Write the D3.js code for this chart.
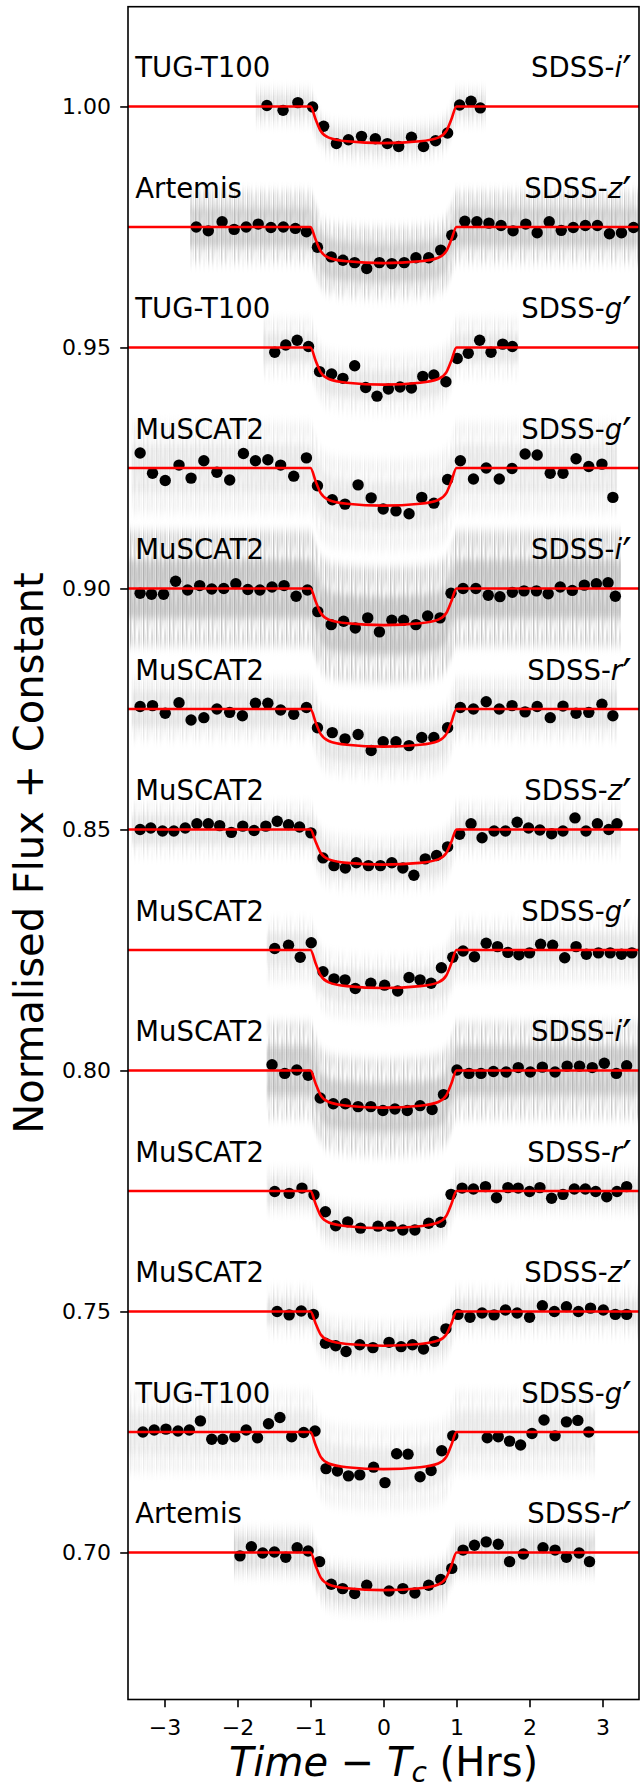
<!DOCTYPE html>
<html><head><meta charset="utf-8">
<script src="https://cdn.jsdelivr.net/npm/d3@7"></script>
<style>body{margin:0;background:#fff} svg{display:block} text{font-family:"DejaVu Sans",sans-serif;fill:#000}</style>
</head><body>
<script>
// ---------- data ----------
const telescopes = ["TUG-T100","Artemis","TUG-T100","MuSCAT2","MuSCAT2","MuSCAT2","MuSCAT2","MuSCAT2","MuSCAT2","MuSCAT2","MuSCAT2","TUG-T100","Artemis"];
const filters    = ["i","z","g","g","i","r","z","g","i","r","z","g","r"];
const offsets    = [1.000,0.975,0.950,0.925,0.900,0.875,0.850,0.825,0.800,0.775,0.750,0.725,0.700];
const yTicks = [0.70,0.75,0.80,0.85,0.90,0.95,1.00];
const yTickLabels = ["0.70","0.75","0.80","0.85","0.90","0.95","1.00"];
const xTicks = [-3,-2,-1,0,1,2,3];
const xTickLabels = ["\u22123","\u22122","\u22121","0","1","2","3"];

// binned light-curve points
const p1x=[-1.597,-1.376,-1.173,-0.971,-0.820,-0.645,-0.480,-0.301,-0.112,0.053,0.208,0.383,0.548,0.713,0.878,1.043,1.199,1.326];
const p1y=[1.0002,0.9992,1.0008,0.9999,0.9959,0.9923,0.9931,0.9938,0.9933,0.9923,0.9917,0.9936,0.9917,0.9929,0.9945,1.0003,1.0011,0.9997];
const p2x=[-2.565,-2.400,-2.211,-2.046,-1.881,-1.716,-1.542,-1.372,-1.207,-1.056,-0.905,-0.716,-0.556,-0.395,-0.230,-0.056,0.114,0.284,0.444,0.619,0.784,0.935,1.114,1.279,1.444,1.610,1.775,1.949,2.105,2.270,2.435,2.600,2.765,2.930,3.095,3.260,3.425];
const p2y=[0.9750,0.9742,0.9761,0.9745,0.9750,0.9756,0.9749,0.9750,0.9747,0.9740,0.9708,0.9688,0.9681,0.9676,0.9664,0.9676,0.9674,0.9676,0.9686,0.9686,0.9702,0.9733,0.9762,0.9761,0.9758,0.9753,0.9742,0.9756,0.9738,0.9761,0.9743,0.9749,0.9753,0.9753,0.9736,0.9738,0.9749];
const p3x=[-1.490,-1.339,-1.183,-1.027,-0.876,-0.711,-0.556,-0.395,-0.244,-0.089,0.067,0.227,0.383,0.538,0.690,0.855,1.010,1.161,1.317,1.473,1.633,1.765];
const p3y=[0.9490,0.9505,0.9515,0.9502,0.9450,0.9445,0.9436,0.9462,0.9417,0.9399,0.9414,0.9418,0.9416,0.9440,0.9443,0.9429,0.9477,0.9488,0.9515,0.9490,0.9507,0.9502];
const p4x=[-3.334,-3.164,-2.990,-2.801,-2.636,-2.461,-2.282,-2.107,-1.919,-1.754,-1.584,-1.409,-1.230,-1.056,-0.905,-0.702,-0.527,-0.348,-0.169,-0.004,0.171,0.350,0.524,0.690,0.878,1.053,1.232,1.407,1.586,1.761,1.940,2.105,2.284,2.459,2.638,2.812,2.992,3.142];
const p4y=[0.9281,0.9239,0.9224,0.9256,0.9229,0.9265,0.9241,0.9225,0.9280,0.9265,0.9267,0.9256,0.9233,0.9271,0.9213,0.9184,0.9175,0.9215,0.9188,0.9165,0.9161,0.9155,0.9189,0.9177,0.9226,0.9265,0.9227,0.9250,0.9227,0.9249,0.9279,0.9277,0.9239,0.9239,0.9269,0.9253,0.9258,0.9189];
const p5x=[-3.334,-3.178,-3.013,-2.848,-2.683,-2.518,-2.353,-2.188,-2.023,-1.858,-1.693,-1.527,-1.362,-1.197,-1.042,-0.900,-0.716,-0.546,-0.386,-0.216,-0.056,0.114,0.275,0.444,0.605,0.775,0.925,1.090,1.265,1.435,1.595,1.765,1.925,2.095,2.256,2.421,2.586,2.751,2.916,3.076,3.176];
const p5y=[0.8990,0.8988,0.8988,0.9015,0.8997,0.9006,0.8999,0.9000,0.9010,0.8998,0.8997,0.9003,0.9006,0.8984,0.8997,0.8952,0.8925,0.8932,0.8918,0.8939,0.8910,0.8934,0.8934,0.8925,0.8943,0.8939,0.8990,0.9000,0.9000,0.8986,0.8983,0.8992,0.8995,0.8995,0.8989,0.9003,0.8996,0.9007,0.9010,0.9012,0.8984];
const p6x=[-3.334,-3.164,-2.990,-2.801,-2.636,-2.461,-2.282,-2.107,-1.933,-1.754,-1.584,-1.409,-1.230,-1.056,-0.905,-0.702,-0.527,-0.348,-0.169,-0.004,0.171,0.350,0.524,0.690,0.878,1.053,1.232,1.407,1.586,1.761,1.940,2.105,2.284,2.459,2.638,2.812,2.992,3.142];
const p6y=[0.8755,0.8757,0.8741,0.8763,0.8727,0.8732,0.8750,0.8743,0.8736,0.8762,0.8762,0.8748,0.8739,0.8753,0.8711,0.8701,0.8688,0.8697,0.8664,0.8682,0.8682,0.8674,0.8691,0.8691,0.8711,0.8753,0.8750,0.8765,0.8750,0.8757,0.8744,0.8755,0.8732,0.8756,0.8741,0.8743,0.8760,0.8736];
const p7x=[-3.334,-3.188,-3.027,-2.872,-2.716,-2.556,-2.400,-2.244,-2.084,-1.928,-1.773,-1.612,-1.456,-1.301,-1.150,-0.994,-0.829,-0.678,-0.523,-0.372,-0.206,-0.042,0.114,0.265,0.416,0.572,0.727,0.878,1.043,1.199,1.350,1.515,1.671,1.831,1.987,2.142,2.303,2.458,2.623,2.774,2.930,3.086,3.199];
const p7y=[0.8500,0.8503,0.8497,0.8497,0.8503,0.8512,0.8512,0.8508,0.8494,0.8507,0.8498,0.8507,0.8517,0.8510,0.8505,0.8493,0.8441,0.8425,0.8420,0.8431,0.8425,0.8425,0.8431,0.8420,0.8405,0.8439,0.8446,0.8464,0.8490,0.8512,0.8483,0.8497,0.8497,0.8515,0.8503,0.8499,0.8491,0.8497,0.8524,0.8497,0.8512,0.8500,0.8512];
const p8x=[-1.490,-1.301,-1.141,-0.990,-0.829,-0.678,-0.527,-0.386,-0.174,0.015,0.194,0.350,0.501,0.652,0.793,0.949,1.090,1.246,1.407,1.562,1.704,1.855,2.001,2.152,2.317,2.482,2.638,2.779,2.944,3.105,3.260,3.402];
const p8y=[0.8253,0.8260,0.8235,0.8265,0.8205,0.8190,0.8188,0.8170,0.8181,0.8177,0.8165,0.8193,0.8188,0.8181,0.8213,0.8235,0.8248,0.8236,0.8264,0.8257,0.8245,0.8240,0.8244,0.8262,0.8260,0.8234,0.8257,0.8241,0.8244,0.8244,0.8241,0.8244];
const p9x=[-1.527,-1.353,-1.188,-1.032,-0.867,-0.688,-0.523,-0.348,-0.174,-0.008,0.157,0.326,0.501,0.666,0.822,1.006,1.171,1.336,1.506,1.680,1.846,2.011,2.176,2.350,2.515,2.685,2.860,3.025,3.190,3.331];
const p9y=[0.8012,0.7994,0.8001,0.7990,0.7943,0.7931,0.7931,0.7925,0.7925,0.7917,0.7920,0.7917,0.7927,0.7919,0.7950,0.8001,0.7994,0.7994,0.7998,0.7997,0.8006,0.7997,0.8007,0.7997,0.8009,0.8009,0.8006,0.8015,0.7994,0.8010];
const p10x=[-1.490,-1.292,-1.117,-0.952,-0.796,-0.655,-0.490,-0.315,-0.075,0.100,0.265,0.430,0.619,0.784,0.925,1.077,1.232,1.397,1.548,1.704,1.845,2.001,2.143,2.303,2.459,2.614,2.765,2.907,3.058,3.199,3.331];
const p10y=[0.7749,0.7745,0.7756,0.7742,0.7707,0.7678,0.7686,0.7673,0.7677,0.7677,0.7669,0.7669,0.7683,0.7685,0.7743,0.7756,0.7754,0.7759,0.7736,0.7757,0.7756,0.7749,0.7757,0.7735,0.7743,0.7754,0.7754,0.7749,0.7738,0.7749,0.7759];
const p11x=[-1.457,-1.292,-1.127,-0.961,-0.796,-0.655,-0.513,-0.325,-0.145,0.076,0.241,0.397,0.548,0.699,0.855,1.020,1.185,1.350,1.515,1.671,1.831,2.001,2.176,2.341,2.506,2.671,2.836,3.011,3.176,3.331];
const p11y=[0.7500,0.7493,0.7501,0.7494,0.7434,0.7429,0.7417,0.7431,0.7425,0.7436,0.7427,0.7431,0.7422,0.7438,0.7464,0.7494,0.7488,0.7497,0.7493,0.7503,0.7497,0.7488,0.7512,0.7500,0.7510,0.7500,0.7507,0.7503,0.7494,0.7494];
const p12x=[-3.296,-3.141,-2.980,-2.815,-2.659,-2.508,-2.353,-2.202,-2.037,-1.881,-1.726,-1.575,-1.419,-1.258,-1.093,-0.938,-0.787,-0.631,-0.480,-0.325,-0.136,0.020,0.180,0.336,0.501,0.652,0.798,0.949,1.421,1.572,1.727,1.878,2.034,2.199,2.350,2.506,2.662,2.812];
const p12y=[0.7250,0.7254,0.7256,0.7252,0.7254,0.7273,0.7235,0.7235,0.7240,0.7254,0.7238,0.7267,0.7280,0.7240,0.7249,0.7252,0.7174,0.7169,0.7159,0.7161,0.7177,0.7145,0.7205,0.7204,0.7157,0.7170,0.7211,0.7242,0.7238,0.7240,0.7231,0.7223,0.7247,0.7275,0.7242,0.7271,0.7274,0.7250];
const p13x=[-1.966,-1.810,-1.655,-1.494,-1.339,-1.183,-1.032,-0.876,-0.716,-0.560,-0.395,-0.230,0.076,0.265,0.430,0.619,0.784,0.935,1.090,1.246,1.407,1.572,1.727,1.916,2.185,2.350,2.506,2.680,2.822];
const p13y=[0.6993,0.7012,0.6999,0.7001,0.6990,0.7010,0.7003,0.6981,0.6934,0.6925,0.6915,0.6932,0.6920,0.6925,0.6916,0.6932,0.6944,0.6967,0.7005,0.7015,0.7022,0.7017,0.6981,0.6997,0.7010,0.7005,0.6990,0.6999,0.6981];

// transit model (red) at knot times
const modelX=[-3.6,-1.0,-0.93,-0.86,-0.75,-0.5,0,0.5,0.75,0.86,0.93,1.0,3.6];
const m1=[1.0,1.0,0.99734,0.99491,0.99354,0.99278,0.9924,0.99278,0.99354,0.99491,0.99734,1.0,1.0];
const m2=[0.975,0.975,0.97238,0.96998,0.96863,0.96788,0.9675,0.96788,0.96863,0.96998,0.97238,0.975,0.975];
const m3=[0.95,0.95,0.94731,0.94484,0.94346,0.94269,0.9423,0.94269,0.94346,0.94484,0.94731,0.95,0.95];
const m4=[0.925,0.925,0.92227,0.91977,0.91837,0.91759,0.9172,0.91759,0.91837,0.91977,0.92227,0.925,0.925];
const m5=[0.9,0.9,0.89734,0.89491,0.89354,0.89278,0.8924,0.89278,0.89354,0.89491,0.89734,0.9,0.9];
const m6=[0.875,0.875,0.87227,0.86977,0.86837,0.86759,0.8672,0.86759,0.86837,0.86977,0.87227,0.875,0.875];
const m7=[0.85,0.85,0.84745,0.84511,0.8438,0.84307,0.8427,0.84307,0.8438,0.84511,0.84745,0.85,0.85];
const m8=[0.825,0.825,0.82224,0.81971,0.81829,0.8175,0.8171,0.8175,0.81829,0.81971,0.82224,0.825,0.825];
const m9=[0.8,0.8,0.79731,0.79484,0.79346,0.79269,0.7923,0.79269,0.79346,0.79484,0.79731,0.8,0.8];
const m10=[0.775,0.775,0.77231,0.76984,0.76846,0.76769,0.7673,0.76769,0.76846,0.76984,0.77231,0.775,0.775];
const m11=[0.75,0.75,0.74752,0.74524,0.74397,0.74326,0.7429,0.74326,0.74397,0.74524,0.74752,0.75,0.75];
const m12=[0.725,0.725,0.72231,0.71984,0.71846,0.71769,0.7173,0.71769,0.71846,0.71984,0.72231,0.725,0.725];
const m13=[0.7,0.7,0.69727,0.69477,0.69337,0.69259,0.6922,0.69259,0.69337,0.69477,0.69727,0.7,0.7];

// unbinned-data cloud: time span and scatter (flux)
const rawStart=[-1.75,-2.65,-1.65,-3.45,-3.5,-3.45,-3.45,-1.6,-1.6,-1.6,-1.6,-3.5,-2.05];
const rawEnd  =[1.40,3.6,1.85,3.2,3.25,3.2,3.25,3.6,3.6,3.6,3.6,2.9,2.9];
const rawOuter=[0.0038,0.0075,0.0060,0.0095,0.0120,0.0065,0.0055,0.0065,0.0100,0.0045,0.0050,0.0085,0.0050];
const rawInner=[0.0020,0.0040,0.0030,0.0050,0.0060,0.0035,0.0030,0.0035,0.0050,0.0025,0.0025,0.0045,0.0030];

// ---------- build ----------
const binX=[p1x,p2x,p3x,p4x,p5x,p6x,p7x,p8x,p9x,p10x,p11x,p12x,p13x];
const binY=[p1y,p2y,p3y,p4y,p5y,p6y,p7y,p8y,p9y,p10y,p11y,p12y,p13y];
const modY=[m1,m2,m3,m4,m5,m6,m7,m8,m9,m10,m11,m12,m13];
const cloudOpacity=[0.24,0.44,0.20,0.18,0.52,0.22,0.22,0.20,0.48,0.22,0.22,0.17,0.28];

const W=640,H=1789;
const L=128,R=639,T=6.7,B=1699.5;
const x=d3.scaleLinear().domain([-3.5,3.5]).range([L,R]);
const y=d3.scaleLinear().domain([0.6695,1.0207]).range([B,T]);

const svg=d3.select("body").append("svg").attr("width",W).attr("height",H);
const defs=svg.append("defs");
defs.append("clipPath").attr("id","plot").append("rect").attr("x",L).attr("y",T).attr("width",R-L).attr("height",B-T);
const f=defs.append("filter").attr("id","blur").attr("x","-10%").attr("y","-60%").attr("width","120%").attr("height","220%");
f.append("feGaussianBlur").attr("stdDeviation","0.6 5");
const f2=defs.append("filter").attr("id","blur2").attr("x","-10%").attr("y","-60%").attr("width","120%").attr("height","220%");
f2.append("feGaussianBlur").attr("stdDeviation","2.5 3.5");
// error-bar like streak texture
const pat=defs.append("pattern").attr("id","streaks").attr("patternUnits","userSpaceOnUse").attr("width",13).attr("height",37);
[[0,0,1.4,37,0.9],[2.2,6,1.2,20,0.55],[4.1,0,1.4,37,0.75],[6.3,12,1.2,22,0.6],[8.4,0,1.3,30,0.85],[10.6,4,1.2,33,0.5],[3.2,27,1.1,10,0.4]].forEach(([px,py,pw,ph,po])=>{
  pat.append("rect").attr("x",px).attr("y",py).attr("width",pw).attr("height",ph).attr("fill","#808080").attr("fill-opacity",po);
});

const plot=svg.append("g").attr("clip-path","url(#plot)");

offsets.forEach((off,i)=>{
  const pts=modelX.map((t,k)=>({t,v:modY[i][k]}));
  const cid="span"+i;
  defs.append("clipPath").attr("id",cid).append("rect")
    .attr("x",x(rawStart[i])).attr("y",0).attr("width",x(rawEnd[i])-x(rawStart[i])).attr("height",H);
  const g=plot.append("g").attr("clip-path",`url(#${cid})`);
  const outer=d3.area().x(d=>x(d.t)).y0(d=>y(d.v-rawOuter[i])).y1(d=>y(d.v+rawOuter[i])).curve(d3.curveMonotoneX);
  const inner=d3.area().x(d=>x(d.t)).y0(d=>y(d.v-rawInner[i])).y1(d=>y(d.v+rawInner[i])).curve(d3.curveMonotoneX);
  g.append("path").attr("d",outer(pts)).attr("fill","url(#streaks)").attr("opacity",cloudOpacity[i]).attr("filter","url(#blur)");
  g.append("path").attr("d",inner(pts)).attr("fill","#808080").attr("opacity",cloudOpacity[i]*0.5).attr("filter","url(#blur2)");
});

offsets.forEach((off,i)=>{
  const data=binX[i].map((t,k)=>({t,v:binY[i][k]}));
  plot.append("g").selectAll("circle").data(data).join("circle")
    .attr("cx",d=>x(d.t)).attr("cy",d=>y(d.v)).attr("r",5.7).attr("fill","#000");
});

offsets.forEach((off,i)=>{
  const pts=modelX.map((t,k)=>({t,v:modY[i][k]}));
  const line=d3.line().x(d=>x(d.t)).y(d=>y(d.v)).curve(d3.curveMonotoneX);
  plot.append("path").attr("d",line(pts)).attr("fill","none").attr("stroke","#ff0000").attr("stroke-width",2.6);
});

// labels
offsets.forEach((off,i)=>{
  const ly=y(off)-29.4;
  svg.append("text").attr("x",x(-3.4)).attr("y",ly).attr("font-size",27.5).text(telescopes[i]);
  const t=svg.append("text").attr("x",x(3.4)).attr("y",ly).attr("font-size",27.5).attr("text-anchor","end");
  t.append("tspan").text("SDSS-");
  t.append("tspan").attr("font-style","italic").text(filters[i]);
  t.append("tspan").attr("font-size",42).attr("dx",0).attr("dy",9).text("\u2032");
});

// axes
const ya=d3.axisLeft(y).tickValues(yTicks).tickFormat((d,k)=>yTickLabels[k]).tickSize(7.8).tickPadding(9.2);
const gy=svg.append("g").attr("transform",`translate(${L},0)`).call(ya);
const xa=d3.axisBottom(x).tickValues(xTicks).tickFormat((d,k)=>xTickLabels[k]).tickSize(7.8).tickPadding(12);
const gx=svg.append("g").attr("transform",`translate(0,${B})`).call(xa);
[gy,gx].forEach(g=>{
  g.select(".domain").remove();
  g.selectAll(".tick line").attr("stroke","#000").attr("stroke-width",1.6);
  g.selectAll(".tick text").attr("font-size",22).attr("font-family","DejaVu Sans").attr("fill","#000");
});
svg.append("rect").attr("x",L).attr("y",T).attr("width",R-L).attr("height",B-T)
  .attr("fill","none").attr("stroke","#000").attr("stroke-width",1.6);

// axis titles
svg.append("text").attr("transform","translate(43,853) rotate(-90)").attr("text-anchor","middle")
  .attr("font-size",40).text("Normalised Flux + Constant");
const xl=svg.append("text").attr("x",383.5).attr("y",1776).attr("text-anchor","middle").attr("font-size",40);
xl.append("tspan").attr("font-style","italic").text("Time");
xl.append("tspan").text(" \u2212 ");
xl.append("tspan").attr("font-style","italic").text("T");
xl.append("tspan").attr("font-style","italic").attr("font-size",28).attr("dy",6).text("c");
xl.append("tspan").attr("dy",-6).text(" (Hrs)");
</script>
</body></html>
